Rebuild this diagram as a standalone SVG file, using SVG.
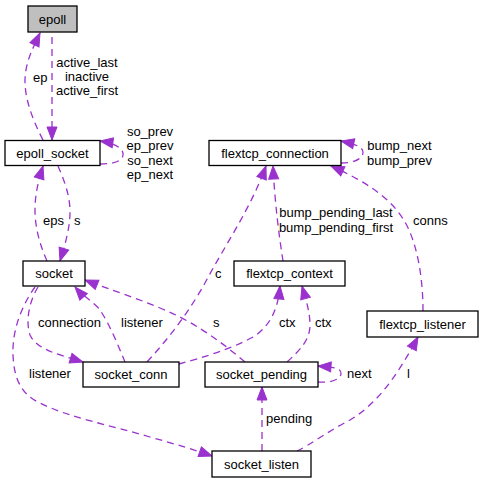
<svg xmlns="http://www.w3.org/2000/svg" width="484" height="483" viewBox="0 0 484 483">
<style>
.node rect{fill:#fff;stroke:#000;stroke-width:1.3}
.node text{font-family:"Liberation Sans",Arial,sans-serif;font-size:13px;text-anchor:middle;fill:#000}
.edge path{fill:none;stroke:#9a32cd;stroke-width:1.3;stroke-dasharray:7,5}
.lbl{font-family:"Liberation Sans",Arial,sans-serif;font-size:13px;fill:#000}
.mid{text-anchor:middle}
</style>
<defs>
<marker id="ah" markerUnits="userSpaceOnUse" markerWidth="15" markerHeight="12" refX="13" refY="5.5" orient="auto" overflow="visible">
<polygon points="0,0.5 13,5.5 0,10.5" fill="#9a32cd" stroke="#9a32cd" stroke-width="1"/>
</marker>
</defs>
<rect width="484" height="483" fill="#fff"/>
<g id="edges" class="edge">
<path d="M43,140 C30,115 22,90 26,70 C28,58 32,50 40,33" marker-end="url(#ah)"/>
<path d="M52,37 L52,140" marker-end="url(#ah)"/>
<path d="M100,164 C112,164 122,162 123,155 C124,148 114,143 100,141" marker-end="url(#ah)"/>
<path d="M47,261 C40,245 35,228 35,210 C35,195 38,182 43,166" marker-end="url(#ah)"/>
<path d="M58,166 C64,180 70,195 70,212 C70,228 65,245 60,261" marker-end="url(#ah)"/>
<path d="M147,362 C170,337 190,310 205,283 C225,245 250,210 266,166" marker-end="url(#ah)"/>
<path d="M283,261 C279,235 275,205 273,166" marker-end="url(#ah)"/>
<path d="M341,163 C352,163 362,160 363,153 C364,147 355,144 341,141" marker-end="url(#ah)"/>
<path d="M423,311 C423,280 418,245 405,222 C390,196 362,180 331,166" marker-end="url(#ah)"/>
<path d="M125,362 C118,345 110,325 100,310 C95,303 82,295 75,287" marker-end="url(#ah)"/>
<path d="M38,287 C30,300 25,320 30,335 C37,350 60,355 83,362" marker-end="url(#ah)"/>
<path d="M35,287 C22,305 12,330 13,355 C14,380 22,395 40,403 C70,418 110,425 150,437 C175,444 195,450 212,456" marker-end="url(#ah)"/>
<path d="M245,362 C225,345 205,330 180,317 C150,302 110,290 85,280" marker-end="url(#ah)"/>
<path d="M179,364 C200,358 230,350 255,336 C270,325 278,310 280,286" marker-end="url(#ah)"/>
<path d="M287,362 C300,350 310,340 310,325 C310,312 306,300 302,286" marker-end="url(#ah)"/>
<path d="M318,382 C330,383 340,380 341,374 C342,368 332,367 318,366" marker-end="url(#ah)"/>
<path d="M262,451 L262,387" marker-end="url(#ah)"/>
<path d="M297,451 C310,445 330,430 350,420 C375,405 395,380 418,337" marker-end="url(#ah)"/>
</g>
<g id="edge-labels" class="lbl">
<text x="33" y="81.5">ep</text>
<text x="87" y="66.5" class="mid">active_last</text>
<text x="87" y="80.5" class="mid">inactive</text>
<text x="87" y="95" class="mid">active_first</text>
<text x="150" y="135.5" class="mid">so_prev</text>
<text x="150" y="149.5" class="mid">ep_prev</text>
<text x="150" y="164.5" class="mid">so_next</text>
<text x="150" y="178.5" class="mid">ep_next</text>
<text x="43" y="225">eps</text>
<text x="74" y="225">s</text>
<text x="215" y="277.5">c</text>
<text x="336" y="217" class="mid">bump_pending_last</text>
<text x="336" y="232" class="mid">bump_pending_first</text>
<text x="399.5" y="149.5" class="mid">bump_next</text>
<text x="399.5" y="164.5" class="mid">bump_prev</text>
<text x="413" y="225">conns</text>
<text x="38" y="327">connection</text>
<text x="121" y="327">listener</text>
<text x="213" y="327">s</text>
<text x="279" y="327">ctx</text>
<text x="315" y="327">ctx</text>
<text x="29" y="378">listener</text>
<text x="347" y="378">next</text>
<text x="407" y="378">l</text>
<text x="266" y="423">pending</text>
</g>
<g id="epoll" class="node"><rect x="28" y="6" width="49" height="26" style="fill:#bfbfbf"/><text x="52.5" y="23.5">epoll</text></g>
<g id="epoll_socket" class="node"><rect x="5" y="140.5" width="95" height="25"/><text x="52.5" y="157.5">epoll_socket</text></g>
<g id="flextcp_connection" class="node"><rect x="209" y="140.5" width="132" height="25"/><text x="275" y="157.5">flextcp_connection</text></g>
<g id="socket" class="node"><rect x="23" y="261" width="62" height="25"/><text x="54" y="278">socket</text></g>
<g id="flextcp_context" class="node"><rect x="234" y="261" width="111" height="25"/><text x="289.5" y="278">flextcp_context</text></g>
<g id="flextcp_listener" class="node"><rect x="367" y="311" width="111" height="26"/><text x="422.5" y="328.5">flextcp_listener</text></g>
<g id="socket_conn" class="node"><rect x="83" y="362" width="96" height="25"/><text x="131" y="379">socket_conn</text></g>
<g id="socket_pending" class="node"><rect x="205" y="362" width="113" height="25"/><text x="261.5" y="379">socket_pending</text></g>
<g id="socket_listen" class="node"><rect x="212" y="451" width="99" height="26"/><text x="261.5" y="468.5">socket_listen</text></g>
</svg>
